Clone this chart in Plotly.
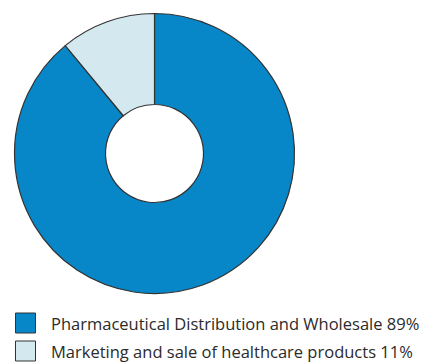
import plotly.graph_objects as go

# Revenue split by segment
segments = ["Pharmaceutical Distribution and Wholesale", "Marketing and sale of healthcare products"]
shares = [89, 11]
colors = ["#0787c7", "#d3e9ef"]

W, H = 424, 363

fig = go.Figure()
fig.add_trace(go.Pie(
    labels=segments,
    values=shares,
    sort=False,
    direction="clockwise",
    rotation=0,
    hole=0.35,
    textinfo="none",
    hoverinfo="label+percent",
    marker=dict(colors=colors, line=dict(color="#333333", width=1.2)),
    domain=dict(x=[14.5 / W, 294.5 / W], y=[1 - 293.5 / H, 1 - 13.5 / H]),
    showlegend=False,
))

# Custom legend: swatch + label with share
row_centers = [323, 351]
for i, (name, val, col) in enumerate(zip(segments, shares, colors)):
    yc = row_centers[i]
    fig.add_shape(type="rect", xref="paper", yref="paper",
                  x0=15.5 / W, x1=35.5 / W,
                  y0=1 - (yc + 10) / H, y1=1 - (yc - 10) / H,
                  fillcolor=col, line=dict(color="#333333", width=1))
    fig.add_annotation(x=49 / W, y=1 - yc / H, xref="paper", yref="paper",
                       xanchor="left", yanchor="middle", showarrow=False,
                       text=f"{name} {val}%",
                       font=dict(family="Open Sans", size=16.5, color="#2b2b2b"))

fig.update_layout(width=W, height=H, margin=dict(l=0, r=0, t=0, b=0),
                  paper_bgcolor="white", plot_bgcolor="white")
fig.write_html("out.html")
